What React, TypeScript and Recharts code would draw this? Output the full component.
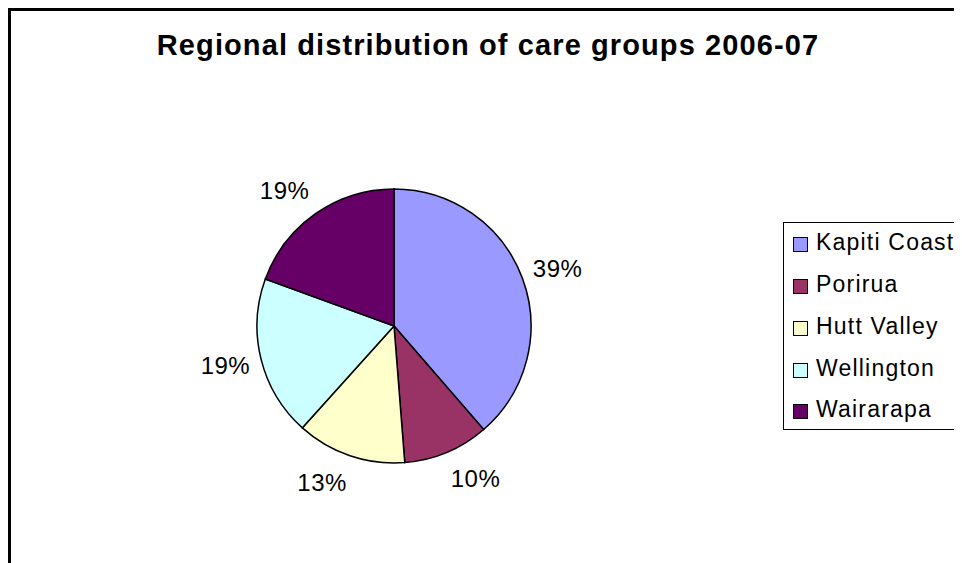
import React from 'react';
import { PieChart, Pie, Cell, Legend } from 'recharts';

const regions = ['Kapiti Coast', 'Porirua', 'Hutt Valley', 'Wellington', 'Wairarapa'];
const shares = [38.6, 10.1, 12.9, 18.9, 19.4];
const colors = ['#9999FF', '#993366', '#FFFFCC', '#CCFFFF', '#660066'];
const title = 'Regional distribution of care groups 2006-07';

const data = regions.map((name, i) => ({ name, value: shares[i], fill: colors[i] }));

const FONT = '"Liberation Sans", Arial, Helvetica, sans-serif';
const RAD = Math.PI / 180;

// Excel-like outside-end label: anchor just beyond the rim on the mid-angle,
// with the label box hanging off that anchor away from the pie.
const renderLabel = (props: any) => {
  const { cx, cy, midAngle, outerRadius, percent } = props;
  const text = `${Math.round(percent * 100)}%`;
  const r = outerRadius + 12;
  const dx = Math.cos(-midAngle * RAD);
  const dy = Math.sin(-midAngle * RAD);
  const halfW = text.length * 8;
  const x = cx + r * dx + Math.sign(dx) * halfW;
  const y = cy + r * dy + dy * 16;
  return (
    <text
      x={x}
      y={y}
      textAnchor="middle"
      dominantBaseline="central"
      fontFamily={FONT}
      fontSize={24}
      letterSpacing={0.5}
      fill="#000"
    >
      {text}
    </text>
  );
};

const renderLegend = () => (
  <div
    style={{
      boxSizing: 'border-box',
      width: 200,
      height: 208,
      border: '1px solid #000',
      borderRight: 'none',
      background: '#fff',
      paddingTop: 1,
      fontFamily: FONT,
    }}
  >
    {regions.map((name, i) => (
      <div key={name} style={{ height: 41.75, display: 'flex', alignItems: 'center' }}>
        <div
          style={{
            boxSizing: 'border-box',
            width: 15,
            height: 15,
            marginLeft: 9,
            border: '1px solid #000',
            background: colors[i],
          }}
        />
        <span
          style={{
            marginLeft: 8,
            fontSize: 23,
            letterSpacing: 1.2,
            color: '#000',
            position: 'relative',
            top: -2,
            whiteSpace: 'nowrap',
          }}
        >
          {name}
        </span>
      </div>
    ))}
  </div>
);

export default function App() {
  return (
    <div
      style={{
        position: 'relative',
        width: 951,
        height: 552,
        borderLeft: '3px solid #000',
        borderTop: '3px solid #000',
        overflow: 'hidden',
        background: '#fff',
        fontFamily: FONT,
      }}
    >
      <div
        style={{
          position: 'absolute',
          left: 0,
          top: 19.5,
          width: 954,
          textAlign: 'center',
          fontSize: 29,
          lineHeight: '29px',
          fontWeight: 'bold',
          letterSpacing: 1.1,
          color: '#000',
          whiteSpace: 'nowrap',
        }}
      >
        {title}
      </div>
      <PieChart
        width={951}
        height={552}
        margin={{ top: 0, right: 0, bottom: 0, left: 0 }}
        style={{ position: 'absolute', left: 0, top: 0 }}
      >
        <Pie
          data={data}
          dataKey="value"
          nameKey="name"
          cx={383}
          cy={315}
          outerRadius={137}
          startAngle={90}
          endAngle={-270}
          stroke="#000"
          strokeWidth={1.5}
          label={renderLabel}
          labelLine={false}
          isAnimationActive={false}
        >
          {data.map((d, i) => (
            <Cell key={i} fill={colors[i]} />
          ))}
        </Pie>
        <Legend
          layout="vertical"
          align="right"
          verticalAlign="top"
          content={renderLegend}
          wrapperStyle={{ left: 772, top: 211, width: 200, height: 208 }}
        />
      </PieChart>
    </div>
  );
}
